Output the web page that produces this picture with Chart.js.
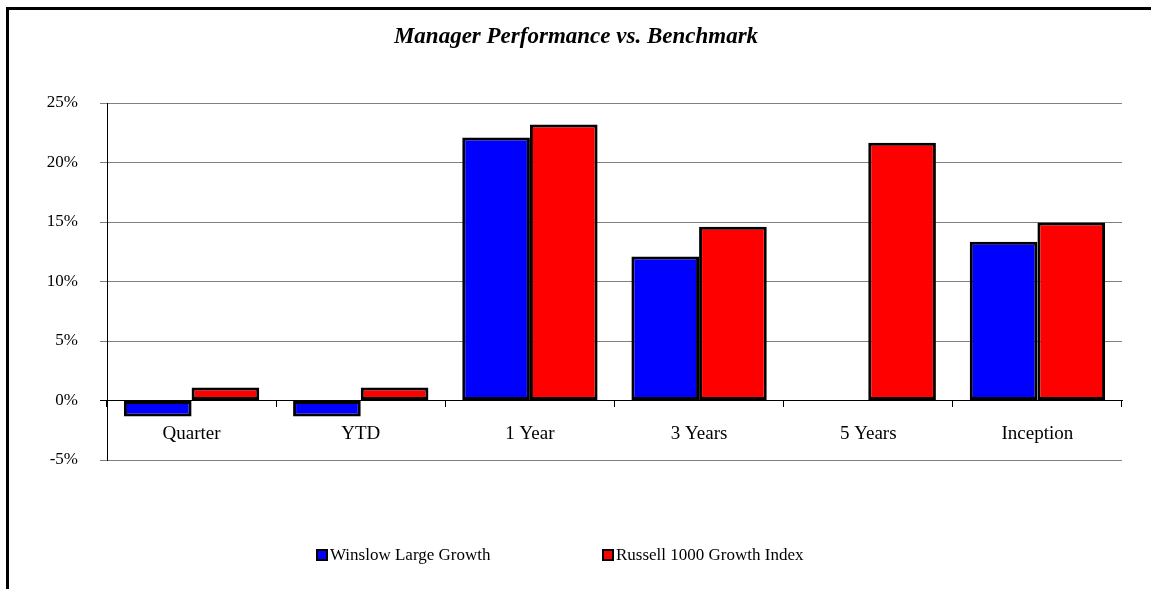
<!DOCTYPE html>
<html>
<head>
<meta charset="utf-8">
<script src="https://cdn.jsdelivr.net/npm/chart.js@4"></script>
<style>
  html, body { margin: 0; padding: 0; background: #fff; }
  body { width: 1151px; height: 589px; overflow: hidden; position: relative; }
  #frame {
    position: absolute; left: 6px; top: 7px;
    width: 1145px; height: 582px;
    border-left: 3px solid #000; border-top: 3px solid #000;
  }
  #wrap { position: absolute; left: 0; top: 0; width: 1142px; height: 579px; }
</style>
</head>
<body>
<div id="frame">
  <div id="wrap"><canvas id="perfChart"></canvas></div>
</div>
<script>
const chartTitle = "Manager Performance vs. Benchmark";
const periods = ["Quarter", "YTD", "1 Year", "3 Years", "5 Years", "Inception"];
const seriesNames = ["Winslow Large Growth", "Russell 1000 Growth Index"];
const managerReturns = [-1.35, -1.35, 22.1, 12.1, null, 13.35];
const benchmarkReturns = [1.1, 1.1, 23.2, 14.6, 21.65, 14.95];
const seriesColors = ["#0000ff", "#ff0000"];
const yMin = -5;
const yMax = 25;
const yStep = 5;

const serif = "'Liberation Serif', 'Times New Roman', serif";

// title + legend drawn by hand so they sit where the original has them
const decorPlugin = {
  id: "decor",
  afterDraw(chart) {
    const ctx = chart.ctx;
    ctx.save();
    ctx.fillStyle = "#000";
    ctx.font = "italic bold 23px " + serif;
    ctx.textAlign = "center";
    ctx.textBaseline = "middle";
    ctx.fillText(chartTitle, 567, 27);

    ctx.font = "17px " + serif;
    ctx.textAlign = "left";
    const legendX = [308, 594];
    const legendY = 545;
    seriesNames.forEach((name, i) => {
      ctx.fillStyle = seriesColors[i];
      ctx.fillRect(legendX[i], legendY - 5, 10, 10);
      ctx.strokeStyle = "#000";
      ctx.lineWidth = 2;
      ctx.strokeRect(legendX[i], legendY - 5, 10, 10);
      ctx.fillStyle = "#000";
      ctx.fillText(name, legendX[i] + 13, legendY + 1);
    });
    ctx.restore();
  }
};

const ctx = document.getElementById("perfChart").getContext("2d");

new Chart(ctx, {
  type: "bar",
  data: {
    labels: periods,
    datasets: [
      {
        label: seriesNames[0],
        data: managerReturns,
        backgroundColor: seriesColors[0],
        borderColor: "#000",
        borderWidth: 3,
        borderSkipped: false
      },
      {
        label: seriesNames[1],
        data: benchmarkReturns,
        backgroundColor: seriesColors[1],
        borderColor: "#000",
        borderWidth: 3,
        borderSkipped: false
      }
    ]
  },
  options: {
    responsive: true,
    maintainAspectRatio: false,
    animation: false,
    layout: {
      padding: { left: 0, right: 29, top: 93, bottom: 129 }
    },
    datasets: {
      bar: { categoryPercentage: 0.8, barPercentage: 1.0 }
    },
    plugins: {
      legend: { display: false },
      title: { display: false },
      tooltip: { enabled: false }
    },
    scales: {
      x: {
        position: { y: 0 },
        grid: {
          offset: true,
          drawOnChartArea: false,
          drawTicks: true,
          tickLength: 6,
          color: "#000"
        },
        border: { display: true, color: "#000", width: 1 },
        ticks: {
          color: "#000",
          padding: 16,
          font: { family: serif, size: 19 }
        }
      },
      y: {
        min: yMin,
        max: yMax,
        afterFit(scale) { scale.width = 98; },
        grid: {
          color: (c) => (c.tick && c.tick.value === 0 ? "#000" : "#808080"),
          tickLength: 7,
          lineWidth: 1
        },
        border: { display: true, color: "#000", width: 1 },
        ticks: {
          stepSize: yStep,
          color: "#000",
          padding: 22,
          font: { family: serif, size: 17 },
          callback: (v) => v + "%"
        }
      }
    }
  },
  plugins: [decorPlugin]
});
</script>
</body>
</html>
